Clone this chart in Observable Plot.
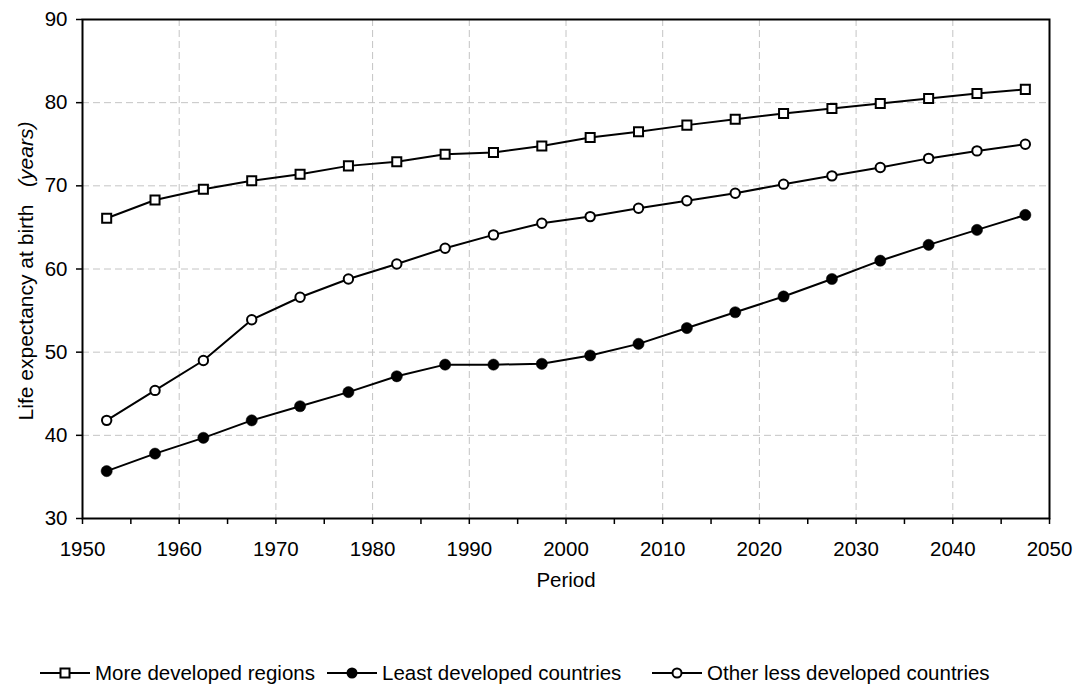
<!DOCTYPE html>
<html>
<head>
<meta charset="utf-8">
<script src="https://cdn.jsdelivr.net/npm/d3@7"></script>
<script src="https://cdn.jsdelivr.net/npm/@observablehq/plot@0.6"></script>
<style>
  html, body { margin: 0; padding: 0; background: #fff; }
  #wrap { position: relative; width: 1079px; height: 687px; font-family: "Liberation Sans", Arial, sans-serif; }
  .item { position: absolute; top: 661px; display: flex; align-items: center; font-size: 20.5px; color: #000; white-space: nowrap; }
  .item svg { margin-right: 5px; }
</style>
</head>
<body>
<div id="wrap"><div id="chart"></div></div>
<script>
// Period midpoints (five-year periods 1950-1955 ... 2045-2050)
const periods = [1952.5, 1957.5, 1962.5, 1967.5, 1972.5, 1977.5, 1982.5, 1987.5, 1992.5, 1997.5,
                 2002.5, 2007.5, 2012.5, 2017.5, 2022.5, 2027.5, 2032.5, 2037.5, 2042.5, 2047.5];
const seriesNames = ["More developed regions", "Least developed countries", "Other less developed countries"];
const moreDeveloped = [66.1, 68.3, 69.6, 70.6, 71.4, 72.4, 72.9, 73.8, 74.0, 74.8,
                       75.8, 76.5, 77.3, 78.0, 78.7, 79.3, 79.9, 80.5, 81.1, 81.6];
const leastDeveloped = [35.7, 37.8, 39.7, 41.8, 43.5, 45.2, 47.1, 48.5, 48.5, 48.6,
                        49.6, 51.0, 52.9, 54.8, 56.7, 58.8, 61.0, 62.9, 64.7, 66.5];
const otherLessDeveloped = [41.8, 45.4, 49.0, 53.9, 56.6, 58.8, 60.6, 62.5, 64.1, 65.5,
                            66.3, 67.3, 68.2, 69.1, 70.2, 71.2, 72.2, 73.3, 74.2, 75.0];
const xTicks = [1950, 1955, 1960, 1965, 1970, 1975, 1980, 1985, 1990, 1995, 2000, 2005, 2010, 2015, 2020, 2025, 2030, 2035, 2040, 2045, 2050];
const xGrid = [1960, 1970, 1980, 1990, 2000, 2010, 2020, 2030, 2040];
const yTicks = [30, 40, 50, 60, 70, 80, 90];
const yGrid = [40, 50, 60, 70, 80];

const seriesValues = [moreDeveloped, leastDeveloped, otherLessDeveloped];
const data = seriesNames.flatMap((s, i) => periods.map((p, j) => ({series: s, period: p, value: seriesValues[i][j]})));
const sel = s => data.filter(d => d.series === s);

const FONT = "Liberation Sans, Arial, sans-serif";
const chart = Plot.plot({
  width: 1079,
  height: 640,
  marginTop: 19,
  marginRight: 30,
  marginBottom: 122,
  marginLeft: 82,
  style: {fontFamily: FONT, fontSize: "20.5px", color: "#000", background: "#fff"},
  x: {domain: [1950, 2050]},
  y: {domain: [30, 90]},
  marks: [
    Plot.gridX(xGrid, {stroke: "#c4c4c4", strokeOpacity: 1, strokeWidth: 1, strokeDasharray: "7,4"}),
    Plot.gridY(yGrid, {stroke: "#c4c4c4", strokeOpacity: 1, strokeWidth: 1, strokeDasharray: "7,4"}),
    Plot.axisX({ticks: xTicks, tickSize: 6, tickPadding: 17, strokeWidth: 1.5, fontSize: 20.5,
                tickFormat: d => (d % 10 === 0 ? String(d) : ""), label: null}),
    Plot.axisY({ticks: yTicks, tickSize: 6, tickPadding: 9, strokeWidth: 1.5, fontSize: 20.5, label: null}),
    Plot.frame({stroke: "#000", strokeWidth: 2}),
    Plot.text(["Period"], {frameAnchor: "bottom", dy: 68, fontSize: 20.5, fill: "#000"}),
    Plot.line(data, {x: "period", y: "value", z: "series", stroke: "#000", strokeWidth: 2}),
    Plot.dot(sel(seriesNames[0]), {x: "period", y: "value", symbol: "square", r: 5.1, fill: "#fff", stroke: "#000", strokeWidth: 2}),
    Plot.dot(sel(seriesNames[1]), {x: "period", y: "value", r: 5.6, fill: "#000", stroke: "#000", strokeWidth: 0.5}),
    Plot.dot(sel(seriesNames[2]), {x: "period", y: "value", r: 4.7, fill: "#fff", stroke: "#000", strokeWidth: 2})
  ]
});
document.getElementById("chart").appendChild(chart);

// Y axis title with italic unit
const svg = d3.select(chart);
const yt = svg.append("text")
  .attr("transform", "translate(33,271) rotate(-90)")
  .attr("text-anchor", "middle")
  .attr("font-family", FONT)
  .attr("font-size", 21)
  .attr("fill", "#000");
yt.append("tspan").text("Life expectancy at birth\u00a0\u00a0\u00a0");
yt.append("tspan").attr("font-style", "italic").text("(years)");

// Legend
const wrap = d3.select("#wrap");
const legendLeft = [40, 327, 652];
const markers = [
  g => g.append("rect").attr("x", 20.5).attr("y", 7.5).attr("width", 9).attr("height", 9).attr("fill", "#fff").attr("stroke", "#000").attr("stroke-width", 2),
  g => g.append("circle").attr("cx", 25).attr("cy", 12).attr("r", 5.5).attr("fill", "#000"),
  g => g.append("circle").attr("cx", 25).attr("cy", 12).attr("r", 4.5).attr("fill", "#fff").attr("stroke", "#000").attr("stroke-width", 2)
];
seriesNames.forEach((name, i) => {
  const item = wrap.append("div").attr("class", "item").style("left", legendLeft[i] + "px");
  const s = item.append("svg").attr("width", 50).attr("height", 24);
  s.append("line").attr("x1", 0).attr("x2", 50).attr("y1", 12).attr("y2", 12).attr("stroke", "#000").attr("stroke-width", 2);
  markers[i](s);
  item.append("span").text(name);
});
</script>
</body>
</html>
